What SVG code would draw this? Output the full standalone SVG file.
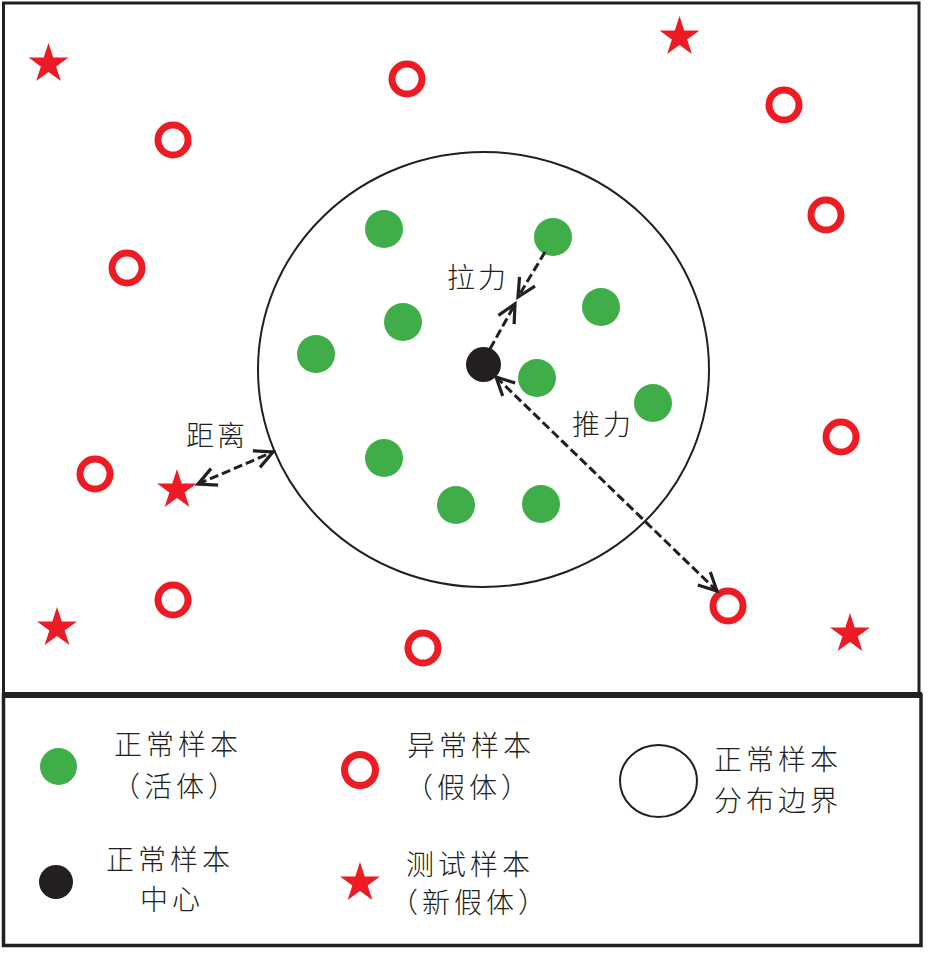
<svg xmlns="http://www.w3.org/2000/svg" width="937" height="953" viewBox="0 0 937 953">
<style>
.frame{fill:none;stroke:#231f20}
.g{fill:#3fae49}
.c{fill:#231f20}
.ring{fill:none;stroke:#ed1c24;stroke-width:7}
.star{fill:#ed1c24}
.t{font-family:"Noto Sans CJK SC","Noto Sans CJK JP",sans-serif;font-size:28px;font-weight:300;fill:#231f20;letter-spacing:4px}
.lbl{font-family:"Noto Sans CJK SC","Noto Sans CJK JP",sans-serif;font-size:28px;font-weight:300;fill:#231f20;letter-spacing:3px}
.arr{fill:none;stroke:#231f20;stroke-width:3;stroke-dasharray:9 4;marker-end:url(#ah)}
.arr2{fill:none;stroke:#231f20;stroke-width:3;stroke-dasharray:9 4;marker-end:url(#ah);marker-start:url(#ah)}
</style>
<defs>
<marker id="ah" viewBox="-22 -12 25 24" refX="0" refY="0" markerWidth="25" markerHeight="24" markerUnits="userSpaceOnUse" orient="auto-start-reverse">
<path d="M-18,-9 L0,0 L-18,9" fill="none" stroke="#231f20" stroke-width="3.2"/>
</marker>
<polygon id="st" points="0,-21 4.72,-6.5 19.97,-6.49 7.64,2.48 12.34,16.99 0,8.03 -12.34,16.99 -7.64,2.48 -19.97,-6.49 -4.72,-6.5"/>
</defs>
<rect width="937" height="953" fill="#fff"/>
<g id="frames">
<rect class="frame" x="3.5" y="3" width="915.5" height="692" stroke-width="3"/>
<rect class="frame" x="3.5" y="695" width="917.5" height="250.5" stroke-width="3.5"/>
<line x1="2" y1="695" x2="922" y2="695" stroke="#231f20" stroke-width="6"/>
</g>
<g id="boundary">
<ellipse cx="483.5" cy="369.5" rx="225.5" ry="217.5" fill="none" stroke="#231f20" stroke-width="2"/>
</g>
<g id="normal-samples">
<circle class="g" cx="384" cy="229" r="19"/>
<circle class="g" cx="553" cy="237" r="19"/>
<circle class="g" cx="403" cy="322" r="19"/>
<circle class="g" cx="601" cy="307" r="19"/>
<circle class="g" cx="316" cy="354" r="19"/>
<circle class="g" cx="537" cy="378" r="19"/>
<circle class="g" cx="653" cy="403" r="19"/>
<circle class="g" cx="384" cy="458" r="19"/>
<circle class="g" cx="456" cy="505" r="19"/>
<circle class="g" cx="541" cy="504" r="19"/>
</g>
<g id="center">
<circle class="c" cx="483.5" cy="364.5" r="17.5"/>
</g>
<g id="abnormal-samples">
<circle class="ring" cx="407" cy="79" r="15"/>
<circle class="ring" cx="173" cy="140" r="15"/>
<circle class="ring" cx="784" cy="105" r="15"/>
<circle class="ring" cx="826" cy="215" r="15"/>
<circle class="ring" cx="127" cy="268" r="15"/>
<circle class="ring" cx="841" cy="437" r="15"/>
<circle class="ring" cx="95" cy="474" r="15"/>
<circle class="ring" cx="173" cy="600" r="15"/>
<circle class="ring" cx="423" cy="648" r="15"/>
<circle class="ring" cx="728" cy="606" r="15"/>
</g>
<g id="test-samples">
<use href="#st" class="star" x="48.5" y="64"/>
<use href="#st" class="star" x="679.5" y="37"/>
<use href="#st" class="star" x="177" y="490"/>
<use href="#st" class="star" x="57" y="628"/>
<use href="#st" class="star" x="850" y="634"/>
</g>
<g id="connectors">
<line class="arr" x1="545" y1="252" x2="518" y2="297"/>
<line class="arr" x1="490" y1="349" x2="515" y2="304"/>
<line class="arr2" x1="198" y1="484" x2="273" y2="452"/>
<line class="arr2" x1="496" y1="377" x2="717" y2="591"/>
</g>
<g id="labels">
<text class="lbl" x="447" y="288">拉力</text>
<text class="lbl" x="186" y="446">距离</text>
<text class="lbl" x="572" y="435">推力</text>
</g>
<g id="legend-normal">
<circle class="g" cx="58.5" cy="766.5" r="18.5"/>
<text class="t" x="114" y="755">正常样本</text>
<text class="t" x="112" y="797">（活体）</text>
</g>
<g id="legend-center">
<circle class="c" cx="56" cy="882" r="17"/>
<text class="t" x="106" y="870">正常样本</text>
<text class="t" x="140" y="910">中心</text>
</g>
<g id="legend-abnormal">
<circle class="ring" cx="360" cy="770" r="15.5"/>
<text class="t" x="407" y="756">异常样本</text>
<text class="t" x="405" y="798">（假体）</text>
</g>
<g id="legend-test">
<use href="#st" class="star" x="360" y="883"/>
<text class="t" x="406" y="875">测试样本</text>
<text class="t" x="390" y="913">（新假体）</text>
</g>
<g id="legend-boundary">
<ellipse cx="658.5" cy="781" rx="38.5" ry="36" fill="none" stroke="#231f20" stroke-width="2"/>
<text class="t" x="714" y="770">正常样本</text>
<text class="t" x="714" y="811">分布边界</text>
</g>
</svg>
